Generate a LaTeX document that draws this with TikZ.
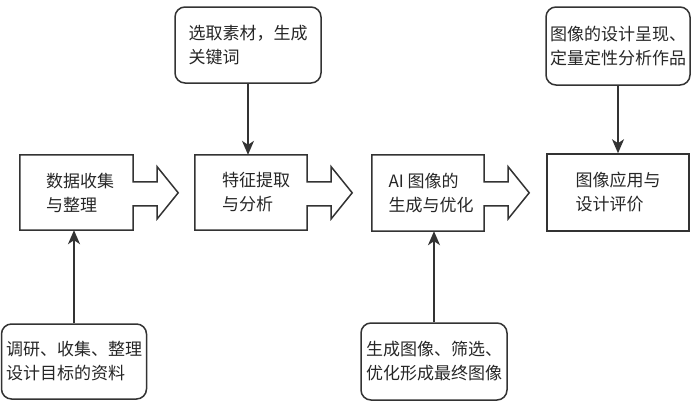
\documentclass[tikz,border=0pt]{standalone}
\usepackage{fontspec}
\setmainfont{Noto Sans CJK SC}
\usetikzlibrary{arrows.meta}
\definecolor{ink}{HTML}{333333}
\definecolor{txt}{HTML}{262626}
\newcommand\BlkArr[1]{%
  \draw[outline] (#1.north west) -- (#1.north east) -- ++(0,27) -- ++(24,0) -- ++(0,-15)
    -- ++(21,26) -- ++(-21,26) -- ++(0,-13) -- ++(-24,0) |- (#1.south west) -- cycle;}
\begin{document}
\begin{tikzpicture}[x=1pt,y=-1pt,
  every node/.style={font=\fontsize{17pt}{24pt}\selectfont, text=txt},
  mainbox/.style={draw=none, minimum height=75pt, inner sep=0pt, align=left},
  outline/.style={draw=ink, line width=1.5pt, line join=miter},
  notebox/.style={draw=ink, line width=1.5pt, rounded corners=10pt, align=left, inner sep=2pt},
  conn/.style={draw=ink, line width=1.5pt, -{Stealth[length=14pt,width=12pt,inset=4pt]}}]
\useasboundingbox (0,0) rectangle (693,402);
% main boxes
\node[mainbox, minimum width=113pt] (m1) at (76.5,192.5) {};
\node[mainbox, minimum width=112pt] (m2) at (251,192.5) {};
\node[mainbox, minimum width=112pt, minimum height=76pt] (m3) at (428,193) {};
\node[mainbox, draw=ink, line width=1.5pt, minimum width=142pt, minimum height=77pt] (m4) at (618,192.5) {};
\BlkArr{m1}
\BlkArr{m2}
\BlkArr{m3}
\node[align=left] (l1) at (80,192.5) {数据收集\\与整理};
\node[align=left] (l2) at (256,192.5) {特征提取\\与分析};
\node[align=left] (l3) at (431,193) {AI 图像的\\生成与优化};
\node[align=left] (l4) at (618,192.5) {图像应用与\\设计评价};
% notes
\node[notebox, minimum width=146pt, minimum height=76pt] (t1) at (248,45) {选取素材，生成\\关键词};
\node[notebox, minimum width=144pt, minimum height=78pt] (t2) at (618,46) {图像的设计呈现、\\定量定性分析作品};
\node[notebox, minimum width=145pt, minimum height=75pt] (b1) at (74,361.5) {调研、收集、整理\\设计目标的资料};
\node[notebox, minimum width=146pt, minimum height=77pt] (b2) at (434,361.5) {生成图像、筛选、\\优化形成最终图像};
% connectors
\draw[conn] (t1.south) -- (t1.south |- m2.north);
\draw[conn] (t2.south) -- (t2.south |- m4.north);
\draw[conn] (b1.north) -- (b1.north |- m1.south);
\draw[conn] (b2.north) -- (b2.north |- m3.south);
\end{tikzpicture}
\end{document}
